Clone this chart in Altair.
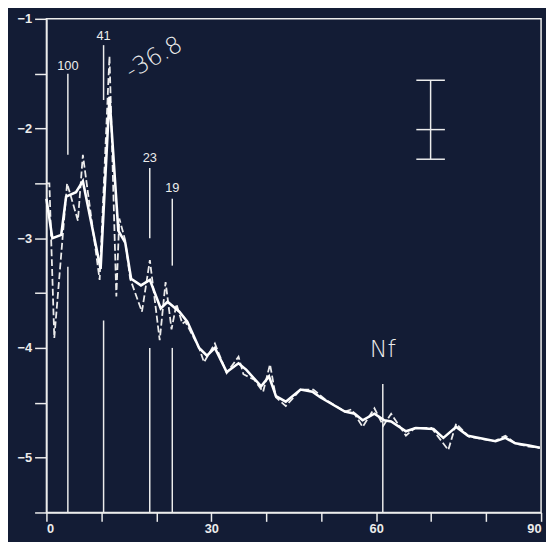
import altair as alt
import pandas as pd

# raw (dashed) spectrum
raw_x = [0.0, 0.54, 1.43, 3.76, 5.73, 6.63, 9.68, 11.47, 12.72, 13.26, 14.34, 15.23, 17.38,
         18.82, 20.61, 21.68, 22.76, 23.66, 24.73, 25.27, 27.78, 28.67, 30.65, 32.80, 34.95,
         35.84, 37.81, 39.43, 40.68, 41.76, 43.55, 46.24, 48.57, 50.72, 54.30, 55.56, 57.53,
         59.68, 61.29, 62.72, 65.41, 67.03, 70.07, 73.12, 74.55, 76.88, 81.54, 83.51, 85.30,
         87.81, 89.78]
raw_y = [-2.50, -2.50, -3.91, -2.50, -2.84, -2.24, -3.38, -1.34, -3.53, -2.82, -3.02, -3.37, -3.67,
         -3.20, -3.93, -3.40, -3.83, -3.60, -3.78, -3.76, -4.00, -4.13, -3.96, -4.23, -4.08,
         -4.24, -4.29, -4.40, -4.15, -4.45, -4.53, -4.38, -4.38, -4.47, -4.58, -4.56, -4.72,
         -4.55, -4.71, -4.60, -4.80, -4.73, -4.73, -4.93, -4.69, -4.81, -4.85, -4.80, -4.87,
         -4.90, -4.91]

# smoothed (solid) spectrum
smo_x = [0.0, 1.08, 2.69, 3.58, 5.38, 6.63, 9.86, 11.47, 13.08, 14.34, 15.41, 17.20, 18.82,
         20.79, 22.04, 24.19, 25.63, 27.78, 29.21, 30.65, 32.80, 34.95, 36.38, 39.07, 40.50,
         41.76, 43.55, 46.24, 48.39, 49.82, 54.30, 56.09, 57.53, 59.68, 61.47, 62.72, 65.41,
         67.20, 70.43, 72.22, 74.55, 76.70, 81.72, 83.51, 85.30, 87.81, 89.78]
smo_y = [-2.64, -3.00, -2.97, -2.62, -2.58, -2.48, -3.28, -1.71, -2.93, -3.04, -3.37, -3.43, -3.38,
         -3.64, -3.58, -3.67, -3.76, -4.00, -4.07, -4.00, -4.22, -4.14, -4.20, -4.35, -4.26,
         -4.44, -4.49, -4.38, -4.40, -4.45, -4.58, -4.60, -4.66, -4.60, -4.66, -4.67, -4.76,
         -4.73, -4.74, -4.82, -4.72, -4.80, -4.85, -4.82, -4.87, -4.89, -4.91]

# period annotations
ann_label = ["100", "41", "23", "19"]
ann_x = [3.9, 10.4, 18.8, 22.9]
ann_text_y = [-1.43, -1.16, -2.27, -2.54]
ann_up_top = [-1.50, -1.24, -2.36, -2.64]
ann_up_bot = [-2.24, -1.74, -3.00, -3.25]
low_x = [3.9, 10.4, 18.8, 22.9, 61.2]
low_top = [-3.26, -3.75, -4.00, -4.00, -4.33]

nf_x, nf_y = 61.2, -4.02
peak_text = "-36.8"
peak_x, peak_y = 19.6, -1.36

# error bar
eb_x = 69.9
eb_half = 2.6
eb_top, eb_mid, eb_bot = -1.56, -2.01, -2.28

FG = "#ececec"
BG = "#131c35"
W, H = 502, 501

xs = alt.Scale(domain=[0, 90], nice=False, zero=False)
ys = alt.Scale(domain=[-5.5, -1], nice=False, zero=False)

xaxis = alt.Axis(values=list(range(0, 91, 10)),
                 labelExpr="datum.value % 30 == 0 ? datum.label : ''",
                 title=None, grid=False, tickSize=9, labelPadding=1)
yaxis = alt.Axis(values=[-5.5, -5, -4.5, -4, -3.5, -3, -2.5, -2, -1.5, -1],
                 labelExpr="datum.value % 1 == 0 ? format(datum.value, 'd') : ''",
                 title=None, grid=False, tickSize=12, labelPadding=3)

raw_df = pd.DataFrame({"x": raw_x, "y": raw_y})
smo_df = pd.DataFrame({"x": smo_x, "y": smo_y})

raw_line = alt.Chart(raw_df).mark_line(color=FG, strokeWidth=1.8, strokeDash=[7, 3]).encode(
    x=alt.X("x:Q", scale=xs, axis=xaxis),
    y=alt.Y("y:Q", scale=ys, axis=yaxis),
)
smo_line = alt.Chart(smo_df).mark_line(color="#ffffff", strokeWidth=2.6).encode(
    x=alt.X("x:Q", scale=xs),
    y=alt.Y("y:Q", scale=ys),
)

up_df = pd.DataFrame({"x": ann_x, "y": ann_up_top, "y2": ann_up_bot})
up_rules = alt.Chart(up_df).mark_rule(color=FG, strokeWidth=1.5).encode(
    x=alt.X("x:Q", scale=xs), y=alt.Y("y:Q", scale=ys), y2="y2:Q")

low_df = pd.DataFrame({"x": low_x, "y": low_top, "y2": [-5.5] * len(low_x)})
low_rules = alt.Chart(low_df).mark_rule(color=FG, strokeWidth=1.5).encode(
    x=alt.X("x:Q", scale=xs), y=alt.Y("y:Q", scale=ys), y2="y2:Q")

lab_df = pd.DataFrame({"x": ann_x, "y": ann_text_y, "t": ann_label})
labels = alt.Chart(lab_df).mark_text(color=FG, fontSize=13, font="Liberation Sans",
                                     baseline="middle", align="center").encode(
    x=alt.X("x:Q", scale=xs), y=alt.Y("y:Q", scale=ys), text="t:N")

nf_df = pd.DataFrame({"x": [nf_x], "y": [nf_y], "t": ["Nf"]})
nf_text = alt.Chart(nf_df).mark_text(color=FG, fontSize=24, font="DejaVu Sans",
                                     fontWeight=300, baseline="middle", align="center").encode(
    x=alt.X("x:Q", scale=xs), y=alt.Y("y:Q", scale=ys), text="t:N")

pk_df = pd.DataFrame({"x": [peak_x], "y": [peak_y], "t": [peak_text]})
pk_text = alt.Chart(pk_df).mark_text(color=FG, fontSize=24, font="DejaVu Sans",
                                     fontWeight=300, angle=330, baseline="middle",
                                     align="center").encode(
    x=alt.X("x:Q", scale=xs), y=alt.Y("y:Q", scale=ys), text="t:N")

eb_v = pd.DataFrame({"x": [eb_x], "y": [eb_top], "y2": [eb_bot]})
eb_vr = alt.Chart(eb_v).mark_rule(color=FG, strokeWidth=1.5).encode(
    x=alt.X("x:Q", scale=xs), y=alt.Y("y:Q", scale=ys), y2="y2:Q")
eb_h = pd.DataFrame({"x": [eb_x - eb_half] * 3, "x2": [eb_x + eb_half] * 3,
                     "y": [eb_top, eb_mid, eb_bot]})
eb_hr = alt.Chart(eb_h).mark_rule(color=FG, strokeWidth=1.5).encode(
    x=alt.X("x:Q", scale=xs), x2="x2:Q", y=alt.Y("y:Q", scale=ys))

chart = alt.layer(low_rules, up_rules, raw_line, smo_line, labels, nf_text, pk_text,
                  eb_vr, eb_hr).properties(
    width=W, height=H,
    autosize=alt.AutoSizeParams(type="none"),
    padding={"left": 39, "top": 7, "right": 5, "bottom": 26},
    background=BG,
).configure_view(
    stroke=FG, strokeWidth=1.5
).configure_axis(
    domainColor=FG, domainWidth=1.5, tickColor=FG, tickWidth=1.5,
    labelColor=FG, labelFont="Liberation Sans", labelFontSize=13, labelFontWeight="bold",
)

chart.save("out.html", embed_options={"renderer": "svg", "actions": False})
